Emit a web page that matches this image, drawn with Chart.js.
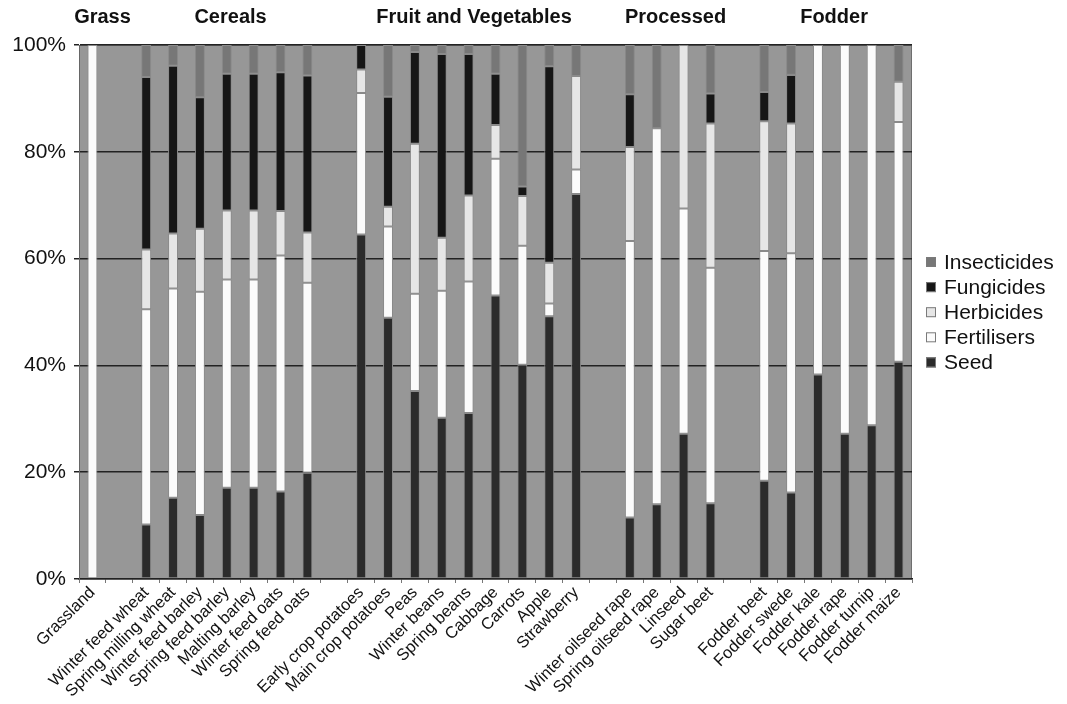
<!DOCTYPE html>
<html>
<head>
<meta charset="utf-8">
<script src="https://cdn.jsdelivr.net/npm/chart.js@4.4.1/dist/chart.umd.min.js"></script>
<style>
  html, body { margin: 0; padding: 0; background: #fff; }
  #wrap { width: 1067px; height: 704px; }
</style>
</head>
<body>
<div id="wrap"><canvas id="chart"></canvas></div>
<script>
/* =========================
   DATA
========================= */
const crops = [
  "Grassland", "",
  "Winter feed wheat", "Spring milling wheat", "Winter feed barley", "Spring feed barley",
  "Malting barley", "Winter feed oats", "Spring feed oats", "",
  "Early crop potatoes", "Main crop potatoes", "Peas", "Winter beans", "Spring beans",
  "Cabbage", "Carrots", "Apple", "Strawberry", "",
  "Winter oilseed rape", "Spring oilseed rape", "Linseed", "Sugar beet", "",
  "Fodder beet", "Fodder swede", "Fodder kale", "Fodder rape", "Fodder turnip", "Fodder maize"
];

const seed =        [0, null, 10.2, 15.2, 12.0, 17.1, 17.1, 16.4, 19.9, null, 64.5, 48.9, 35.2, 30.2, 31.1, 53.1, 40.1, 49.2, 72.1, null, 11.5, 14.0, 27.2, 14.2, null, 18.4, 16.2, 38.3, 27.2, 28.8, 40.7];
const fertilisers = [100, null, 40.3, 39.2, 41.8, 39.0, 39.0, 44.2, 35.6, null, 26.5, 17.1, 18.2, 23.8, 24.6, 25.6, 22.3, 2.4, 4.6, null, 51.8, 70.4, 42.2, 44.1, null, 43.0, 44.8, 61.7, 72.8, 71.2, 44.9];
const herbicides =  [0, null, 11.2, 10.3, 11.8, 12.9, 12.9, 8.3, 9.4, null, 4.4, 3.7, 28.1, 9.9, 16.1, 6.3, 9.3, 7.6, 17.5, null, 17.6, 0, 30.6, 27.0, null, 24.3, 24.3, 0, 0, 0, 7.5];
const fungicides =  [0, null, 32.3, 31.4, 24.6, 25.6, 25.6, 26.0, 29.4, null, 4.6, 20.6, 17.2, 34.4, 26.5, 9.6, 1.8, 36.8, 0, null, 9.9, 0, 0, 5.6, null, 5.5, 9.1, 0, 0, 0, 0];
const insecticides = [0, null, 6.0, 3.9, 9.8, 5.4, 5.4, 5.1, 5.7, null, 0, 9.7, 1.3, 1.7, 1.7, 5.4, 26.5, 4.0, 5.8, null, 9.2, 15.6, 0, 9.1, null, 8.8, 5.6, 0, 0, 0, 6.9];

const yTicks = [0, 20, 40, 60, 80, 100];

// group headings: text + (fractional) category index to centre on
const groupNames = ["Grass", "Cereals", "Fruit and Vegetables", "Processed", "Fodder"];
const groupAt = [0.375, 5.14, 14.2, 21.7, 27.6];

const FONT = "'Liberation Sans', Arial, Helvetica, sans-serif";

/* =========================
   PLUGINS
========================= */
const plotBackground = {
  id: "plotBackground",
  beforeDraw(chart) {
    const { ctx, chartArea: a } = chart;
    ctx.save();
    ctx.fillStyle = "#979797";
    ctx.fillRect(a.left, a.top, a.right - a.left, a.bottom - a.top);
    ctx.strokeStyle = "#6e6e6e";
    ctx.lineWidth = 1;
    ctx.strokeRect(a.left + 0.5, a.top + 0.5, a.right - a.left - 1, a.bottom - a.top - 1);
    ctx.restore();
  }
};

const groupTitles = {
  id: "groupTitles",
  afterDraw(chart) {
    const { ctx } = chart;
    const x = chart.scales.x;
    ctx.save();
    ctx.font = "bold 20px " + FONT;
    ctx.fillStyle = "#111";
    ctx.textAlign = "center";
    ctx.textBaseline = "middle";
    groupNames.forEach((g, i) => {
      ctx.fillText(g, x.getPixelForValue(groupAt[i]), 17);
    });
    ctx.restore();
  }
};

// legend on the right, top entry = last dataset
const sideLegend = {
  id: "sideLegend",
  afterDraw(chart) {
    const { ctx } = chart;
    const sets = chart.data.datasets.slice().reverse();
    ctx.save();
    ctx.font = "21px " + FONT;
    ctx.textBaseline = "middle";
    sets.forEach((d, i) => {
      const cy = 262 + i * 25.1;
      ctx.fillStyle = d.backgroundColor;
      ctx.fillRect(926, cy - 5, 10, 10);
      ctx.strokeStyle = "#7a7a7a";
      ctx.lineWidth = 1;
      ctx.strokeRect(926.5, cy - 4.5, 9, 9);
      ctx.fillStyle = "#111";
      ctx.fillText(d.label, 944, cy + 1);
    });
    ctx.restore();
  }
};

/* =========================
   CHART
========================= */
const mk = (label, data, color) => ({
  label, data,
  backgroundColor: color,
  borderColor: "#8a8a8a",
  borderWidth: 1,
  borderSkipped: false,
  barPercentage: 0.37,
  categoryPercentage: 1
});

new Chart(document.getElementById("chart"), {
  type: "bar",
  data: {
    labels: crops,
    datasets: [
      mk("Seed", seed, "#2b2b2b"),
      mk("Fertilisers", fertilisers, "#fbfbfb"),
      mk("Herbicides", herbicides, "#e6e6e6"),
      mk("Fungicides", fungicides, "#161616"),
      mk("Insecticides", insecticides, "#777777")
    ]
  },
  options: {
    responsive: true,
    maintainAspectRatio: false,
    animation: false,
    layout: { padding: { top: 45, left: 0, right: 155, bottom: 0 } },
    plugins: {
      tooltip: { enabled: false },
      legend: { display: false }
    },
    scales: {
      x: {
        stacked: true,
        offset: true,
        afterFit(axis) { axis.height = 125; },
        grid: { drawOnChartArea: false, drawTicks: true, tickLength: 4, offset: true, color: "#777" },
        border: { display: true, color: "#222", width: 1.5 },
        ticks: {
          autoSkip: false,
          maxRotation: 45,
          minRotation: 45,
          padding: 0,
          color: "#111",
          font: { family: FONT, size: 16.5 }
        }
      },
      y: {
        stacked: true,
        min: 0,
        max: 100,
        afterFit(axis) { axis.width = 79; },
        afterBuildTicks(axis) { axis.ticks = yTicks.map(v => ({ value: v })); },
        grid: { color: "#222", lineWidth: 1.5, drawTicks: true, tickLength: 5 },
        border: { display: true, color: "#666" },
        ticks: {
          padding: 8,
          color: "#111",
          font: { family: FONT, size: 21 },
          callback: v => v + "%"
        }
      }
    }
  },
  plugins: [plotBackground, groupTitles, sideLegend]
});
</script>
</body>
</html>
